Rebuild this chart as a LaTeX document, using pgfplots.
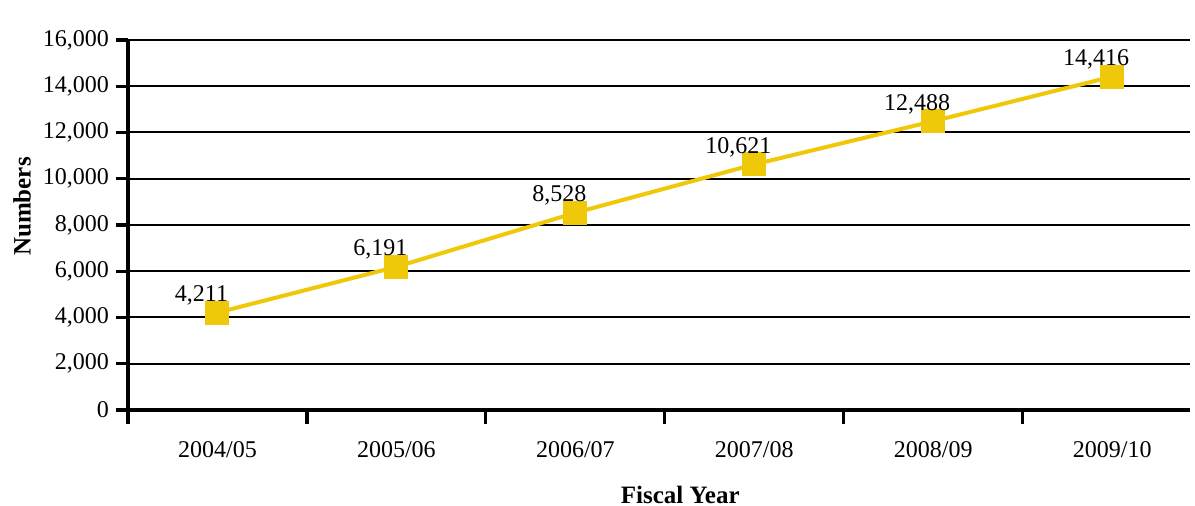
\documentclass[border=0pt]{standalone}
\usepackage{fontspec}
\setmainfont{Liberation Serif}
\usepackage{pgfplots}
\pgfplotsset{compat=1.18}
\definecolor{gold}{RGB}{240,200,10}

\pgfplotsset{
  /pgf/number format/assume math mode=true,
  /pgf/number format/1000 sep={,},
}

\begin{document}
\begin{tikzpicture}
\begin{axis}[
  scale only axis,
  width=531pt, height=185pt,
  xmin=-0.5, xmax=5.435,
  ymin=0, ymax=16000,
  clip=false,
  axis x line*=bottom,
  axis y line*=left,
  axis line style={line width=1.6pt, -},
  ytick={0,2000,...,16000},
  scaled y ticks=false,
  yticklabel={\pgfmathprintnumber[fixed,precision=0]{\tick}},
  ymajorgrids,
  grid style={black, line width=1pt},
  xtick={0,...,5},
  xticklabels={2004/05,2005/06,2006/07,2007/08,2008/09,2009/10},
  major x tick style={draw=none},
  minor xtick={-0.5,0.5,...,4.5},
  minor tick length=7pt,
  minor tick style={black, line width=1.6pt},
  tick align=outside,
  major tick length=6pt,
  major tick style={black, line width=1.6pt},
  tick label style={font=\fontsize{12}{14}\selectfont},
  xticklabel style={yshift=-6pt},
  xlabel={Fiscal Year},
  ylabel={Numbers},
  label style={font=\fontsize{12.5}{14}\selectfont\bfseries},
  xlabel style={at={(rel axis cs:0.52,0)}, anchor=center, yshift=-42.5pt},
  ylabel style={at={([xshift=-53pt]rel axis cs:0,0.55)}, anchor=center},
  nodes near coords,
  nodes near coords style={anchor=base, yshift=5.5pt, xshift=-8pt,
    font=\fontsize{12}{14}\selectfont, text=black},
]
\addplot[color=gold, line width=2pt, mark=square*, mark size=5pt,
  mark options={fill=gold, draw=gold}]
  coordinates {(0,4211) (1,6191) (2,8528) (3,10621) (4,12488) (5,14416)};
\coordinate (bl) at (rel axis cs:0,0);
\coordinate (tr) at (rel axis cs:1,1);
\end{axis}
\pgfresetboundingbox
\path ([shift={(-64pt,-48pt)}]bl) rectangle ([shift={(2.5pt,20pt)}]tr);
\end{tikzpicture}
\end{document}
